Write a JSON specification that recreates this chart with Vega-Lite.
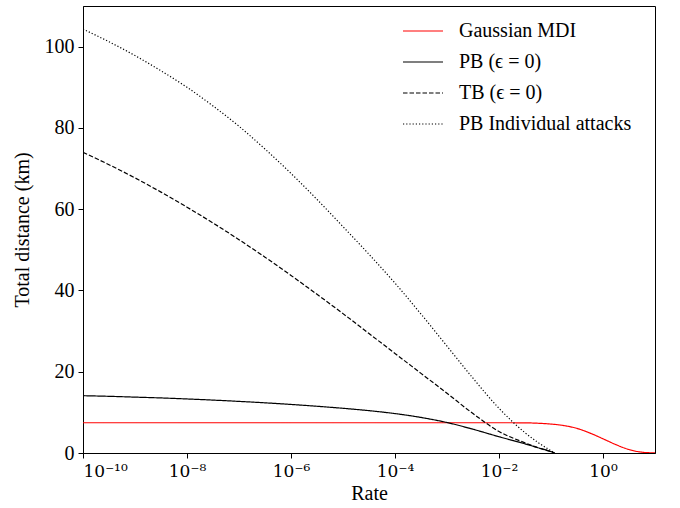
{
  "$schema": "https://vega.github.io/schema/vega-lite/v6.json",
  "width": 572,
  "height": 447,
  "autosize": {"type": "none"},
  "padding": {"left": 83, "top": 6, "right": 25, "bottom": 55},
  "background": "white",
  "config": {
    "font": "Liberation Serif",
    "view": {"stroke": "#000", "strokeWidth": 1},
    "axis": {
      "domainColor": "#000", "domainWidth": 1, "tickColor": "#000", "tickWidth": 1, "tickSize": 5,
      "labelFont": "Liberation Serif", "labelFontSize": 20, "labelColor": "#000",
      "titleFont": "Liberation Serif", "titleFontSize": 20, "titleFontWeight": "normal", "titleColor": "#000",
      "grid": false
    },
    "legend": {"labelFont": "Liberation Serif", "labelFontSize": 20, "labelColor": "#000"}
  },
  "data": {
    "values": [
      {"series": "Gaussian MDI", "rate": 1e-10, "dist": 7.45},
      {"series": "Gaussian MDI", "rate": 1e-6, "dist": 7.45},
      {"series": "Gaussian MDI", "rate": 1e-2, "dist": 7.45},
      {"series": "Gaussian MDI", "rate": 0.03162, "dist": 7.42},
      {"series": "Gaussian MDI", "rate": 0.05623, "dist": 7.32},
      {"series": "Gaussian MDI", "rate": 0.1, "dist": 7.12},
      {"series": "Gaussian MDI", "rate": 0.1778, "dist": 6.75},
      {"series": "Gaussian MDI", "rate": 0.3162, "dist": 6.05},
      {"series": "Gaussian MDI", "rate": 0.5623, "dist": 4.9},
      {"series": "Gaussian MDI", "rate": 1, "dist": 3.5},
      {"series": "Gaussian MDI", "rate": 1.778, "dist": 2.05},
      {"series": "Gaussian MDI", "rate": 3.162, "dist": 0.85},
      {"series": "Gaussian MDI", "rate": 5.623, "dist": 0.2},
      {"series": "Gaussian MDI", "rate": 10, "dist": 0.02},

      {"series": "PB (ϵ = 0)", "rate": 1e-10, "dist": 14.1},
      {"series": "PB (ϵ = 0)", "rate": 3.162e-10, "dist": 13.95},
      {"series": "PB (ϵ = 0)", "rate": 1e-9, "dist": 13.75},
      {"series": "PB (ϵ = 0)", "rate": 3.162e-9, "dist": 13.55},
      {"series": "PB (ϵ = 0)", "rate": 1e-8, "dist": 13.3},
      {"series": "PB (ϵ = 0)", "rate": 3.162e-8, "dist": 13.02},
      {"series": "PB (ϵ = 0)", "rate": 1e-7, "dist": 12.7},
      {"series": "PB (ϵ = 0)", "rate": 3.162e-7, "dist": 12.35},
      {"series": "PB (ϵ = 0)", "rate": 1e-6, "dist": 11.95},
      {"series": "PB (ϵ = 0)", "rate": 3.162e-6, "dist": 11.5},
      {"series": "PB (ϵ = 0)", "rate": 1e-5, "dist": 11.0},
      {"series": "PB (ϵ = 0)", "rate": 3.162e-5, "dist": 10.42},
      {"series": "PB (ϵ = 0)", "rate": 1e-4, "dist": 9.7},
      {"series": "PB (ϵ = 0)", "rate": 3.162e-4, "dist": 8.75},
      {"series": "PB (ϵ = 0)", "rate": 1e-3, "dist": 7.5},
      {"series": "PB (ϵ = 0)", "rate": 3.162e-3, "dist": 5.85},
      {"series": "PB (ϵ = 0)", "rate": 1e-2, "dist": 4.0},
      {"series": "PB (ϵ = 0)", "rate": 0.03162, "dist": 2.25},
      {"series": "PB (ϵ = 0)", "rate": 0.05623, "dist": 1.3},
      {"series": "PB (ϵ = 0)", "rate": 0.1, "dist": 0.35},
      {"series": "PB (ϵ = 0)", "rate": 0.1175, "dist": 0},

      {"series": "TB (ϵ = 0)", "rate": 1e-10, "dist": 74.0},
      {"series": "TB (ϵ = 0)", "rate": 3.162e-10, "dist": 70.95},
      {"series": "TB (ϵ = 0)", "rate": 1e-9, "dist": 67.7},
      {"series": "TB (ϵ = 0)", "rate": 3.162e-9, "dist": 64.2},
      {"series": "TB (ϵ = 0)", "rate": 1e-8, "dist": 60.5},
      {"series": "TB (ϵ = 0)", "rate": 3.162e-8, "dist": 56.6},
      {"series": "TB (ϵ = 0)", "rate": 1e-7, "dist": 52.5},
      {"series": "TB (ϵ = 0)", "rate": 3.162e-7, "dist": 48.2},
      {"series": "TB (ϵ = 0)", "rate": 1e-6, "dist": 43.7},
      {"series": "TB (ϵ = 0)", "rate": 3.162e-6, "dist": 39.05},
      {"series": "TB (ϵ = 0)", "rate": 1e-5, "dist": 34.3},
      {"series": "TB (ϵ = 0)", "rate": 3.162e-5, "dist": 29.4},
      {"series": "TB (ϵ = 0)", "rate": 1e-4, "dist": 24.5},
      {"series": "TB (ϵ = 0)", "rate": 3.162e-4, "dist": 19.6},
      {"series": "TB (ϵ = 0)", "rate": 1e-3, "dist": 14.7},
      {"series": "TB (ϵ = 0)", "rate": 3.162e-3, "dist": 9.7},
      {"series": "TB (ϵ = 0)", "rate": 1e-2, "dist": 5.3},
      {"series": "TB (ϵ = 0)", "rate": 0.03162, "dist": 2.5},
      {"series": "TB (ϵ = 0)", "rate": 0.05623, "dist": 1.3},
      {"series": "TB (ϵ = 0)", "rate": 0.1, "dist": 0.3},
      {"series": "TB (ϵ = 0)", "rate": 0.1175, "dist": 0},

      {"series": "PB Individual attacks", "rate": 1e-10, "dist": 104.3},
      {"series": "PB Individual attacks", "rate": 3.162e-10, "dist": 101.2},
      {"series": "PB Individual attacks", "rate": 1e-9, "dist": 97.8},
      {"series": "PB Individual attacks", "rate": 3.162e-9, "dist": 94.05},
      {"series": "PB Individual attacks", "rate": 1e-8, "dist": 90.0},
      {"series": "PB Individual attacks", "rate": 3.162e-8, "dist": 85.4},
      {"series": "PB Individual attacks", "rate": 1e-7, "dist": 80.4},
      {"series": "PB Individual attacks", "rate": 3.162e-7, "dist": 74.8},
      {"series": "PB Individual attacks", "rate": 1e-6, "dist": 68.8},
      {"series": "PB Individual attacks", "rate": 3.162e-6, "dist": 62.4},
      {"series": "PB Individual attacks", "rate": 1e-5, "dist": 55.7},
      {"series": "PB Individual attacks", "rate": 3.162e-5, "dist": 48.9},
      {"series": "PB Individual attacks", "rate": 1e-4, "dist": 41.8},
      {"series": "PB Individual attacks", "rate": 3.162e-4, "dist": 34.2},
      {"series": "PB Individual attacks", "rate": 1e-3, "dist": 26.3},
      {"series": "PB Individual attacks", "rate": 3.162e-3, "dist": 18.4},
      {"series": "PB Individual attacks", "rate": 1e-2, "dist": 11.0},
      {"series": "PB Individual attacks", "rate": 0.03162, "dist": 5.0},
      {"series": "PB Individual attacks", "rate": 0.05623, "dist": 2.6},
      {"series": "PB Individual attacks", "rate": 0.1, "dist": 0.55},
      {"series": "PB Individual attacks", "rate": 0.1175, "dist": 0}
    ]
  },
  "mark": {"type": "line", "strokeWidth": 1.2, "interpolate": "monotone", "clip": true},
  "encoding": {
    "x": {
      "field": "rate", "type": "quantitative",
      "scale": {"type": "log", "domain": [1e-10, 10], "nice": false},
      "axis": {
        "title": "Rate", "values": [1e-10, 1e-8, 1e-6, 1e-4, 1e-2, 1],
        "labelExpr": "datum.value < 1e-9 ? '10⁻¹⁰' : datum.value < 1e-7 ? '10⁻⁸' : datum.value < 1e-5 ? '10⁻⁶' : datum.value < 1e-3 ? '10⁻⁴' : datum.value < 0.1 ? '10⁻²' : '10⁰'",
        "labelFont": "DejaVu Serif", "labelFontSize": 17,
        "labelPadding": 5, "titlePadding": 4
      }
    },
    "y": {
      "field": "dist", "type": "quantitative",
      "scale": {"domain": [0, 110], "nice": false, "zero": true},
      "axis": {"title": "Total distance (km)", "values": [0, 20, 40, 60, 80, 100], "labelPadding": 4, "titlePadding": 12}
    },
    "color": {
      "field": "series", "type": "nominal",
      "scale": {
        "domain": ["Gaussian MDI", "PB (ϵ = 0)", "TB (ϵ = 0)", "PB Individual attacks"],
        "range": ["#ff0000", "#000000", "#000000", "#000000"]
      },
      "legend": {
        "title": null, "orient": "none", "legendX": 319, "legendY": 4,
        "symbolType": "stroke", "symbolSize": 1600, "symbolStrokeWidth": 1.2,
        "labelOffset": 15, "rowPadding": -1.5, "padding": 0, "labelLimit": 400
      }
    },
    "strokeDash": {
      "field": "series", "type": "nominal",
      "scale": {
        "domain": ["Gaussian MDI", "PB (ϵ = 0)", "TB (ϵ = 0)", "PB Individual attacks"],
        "range": [[1, 0], [1, 0], [4.5, 2], [1.2, 2]]
      },
      "legend": null
    }
  }
}
